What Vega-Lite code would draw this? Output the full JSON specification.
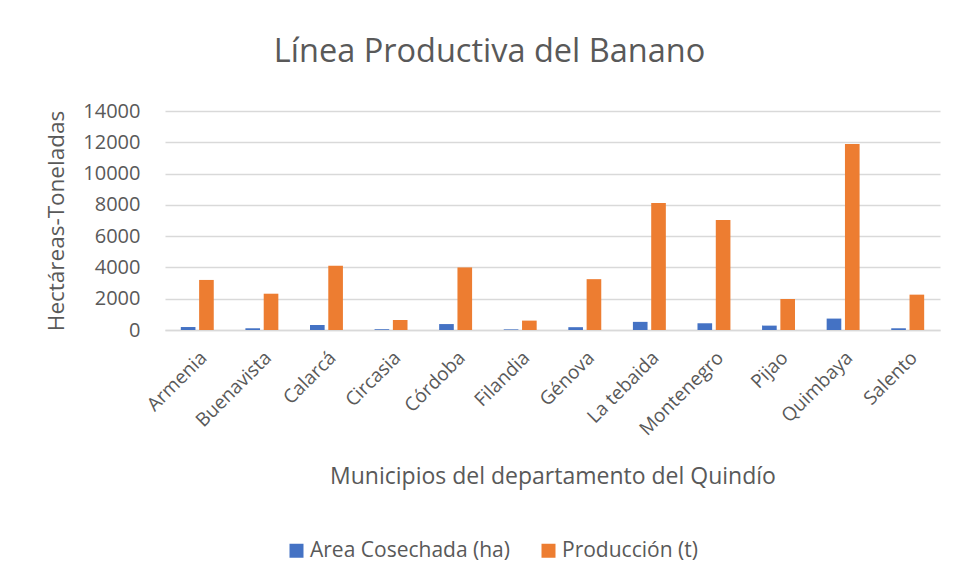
{
  "$schema": "https://vega.github.io/schema/vega-lite/v6.json",
  "width": 775,
  "height": 219,
  "autosize": {"type": "none"},
  "padding": {"left": 165, "top": 111, "right": 15, "bottom": 250},
  "background": "white",
  "title": {
    "text": "Línea Productiva del Banano",
    "anchor": "middle",
    "dx": -63,
    "offset": 33,
    "fontSize": 32.5,
    "font": "Open Sans",
    "fontWeight": "normal",
    "color": "#595959"
  },
  "data": {
    "values": [
      {"municipio": "Armenia", "serie": "Area Cosechada (ha)", "valor": 190},
      {"municipio": "Armenia", "serie": "Producción (t)", "valor": 3200},
      {"municipio": "Buenavista", "serie": "Area Cosechada (ha)", "valor": 110},
      {"municipio": "Buenavista", "serie": "Producción (t)", "valor": 2320},
      {"municipio": "Calarcá", "serie": "Area Cosechada (ha)", "valor": 320},
      {"municipio": "Calarcá", "serie": "Producción (t)", "valor": 4100},
      {"municipio": "Circasia", "serie": "Area Cosechada (ha)", "valor": 50},
      {"municipio": "Circasia", "serie": "Producción (t)", "valor": 640},
      {"municipio": "Córdoba", "serie": "Area Cosechada (ha)", "valor": 380},
      {"municipio": "Córdoba", "serie": "Producción (t)", "valor": 4000},
      {"municipio": "Filandia", "serie": "Area Cosechada (ha)", "valor": 40},
      {"municipio": "Filandia", "serie": "Producción (t)", "valor": 600},
      {"municipio": "Génova", "serie": "Area Cosechada (ha)", "valor": 180},
      {"municipio": "Génova", "serie": "Producción (t)", "valor": 3250},
      {"municipio": "La tebaida", "serie": "Area Cosechada (ha)", "valor": 520},
      {"municipio": "La tebaida", "serie": "Producción (t)", "valor": 8120},
      {"municipio": "Montenegro", "serie": "Area Cosechada (ha)", "valor": 430},
      {"municipio": "Montenegro", "serie": "Producción (t)", "valor": 7030},
      {"municipio": "Pijao", "serie": "Area Cosechada (ha)", "valor": 280},
      {"municipio": "Pijao", "serie": "Producción (t)", "valor": 1980},
      {"municipio": "Quimbaya", "serie": "Area Cosechada (ha)", "valor": 730},
      {"municipio": "Quimbaya", "serie": "Producción (t)", "valor": 11890},
      {"municipio": "Salento", "serie": "Area Cosechada (ha)", "valor": 110},
      {"municipio": "Salento", "serie": "Producción (t)", "valor": 2260}
    ]
  },
  "mark": {"type": "bar"},
  "encoding": {
    "x": {
      "field": "municipio",
      "type": "nominal",
      "sort": null,
      "scale": {"paddingInner": 0.49, "paddingOuter": 0.245},
      "axis": {
        "title": "Municipios del departamento del Quindío",
        "titleFont": "Open Sans",
        "titleFontSize": 23,
        "titleFontWeight": "normal",
        "titleColor": "#595959",
        "titleY": 135,
        "labelAngle": -45,
        "labelFont": "Open Sans",
        "labelFontSize": 19,
        "labelColor": "#595959",
        "labelPadding": 18,
        "labelLimit": 0,
        "ticks": false,
        "domainColor": "#d9d9d9",
        "domainWidth": 1.5
      }
    },
    "xOffset": {
      "field": "serie",
      "type": "nominal",
      "sort": ["Area Cosechada (ha)", "Producción (t)"],
      "scale": {"paddingInner": 0.2}
    },
    "y": {
      "field": "valor",
      "type": "quantitative",
      "scale": {"domain": [0, 14000]},
      "axis": {
        "title": "Hectáreas-Toneladas",
        "titleFont": "Open Sans",
        "titleFontSize": 22.5,
        "titleFontWeight": "normal",
        "titleColor": "#595959",
        "titlePadding": 14,
        "values": [0, 2000, 4000, 6000, 8000, 10000, 12000, 14000],
        "format": "d",
        "labelFont": "Open Sans",
        "labelFontSize": 20,
        "labelColor": "#595959",
        "labelPadding": 25,
        "ticks": false,
        "domain": false,
        "gridColor": "#d9d9d9",
        "gridWidth": 1.5
      }
    },
    "color": {
      "field": "serie",
      "type": "nominal",
      "sort": ["Area Cosechada (ha)", "Producción (t)"],
      "scale": {"range": ["#4472C4", "#ED7D31"]},
      "legend": {
        "title": null,
        "orient": "none",
        "direction": "horizontal",
        "legendX": 121,
        "legendY": 429,
        "symbolType": "square",
        "symbolSize": 196,
        "symbolStrokeWidth": 0,
        "labelFont": "Open Sans",
        "labelFontSize": 21,
        "labelColor": "#595959",
        "labelLimit": 0,
        "labelOffset": 3,
        "columnPadding": 28
      }
    }
  },
  "config": {
    "view": {"stroke": null}
  }
}
